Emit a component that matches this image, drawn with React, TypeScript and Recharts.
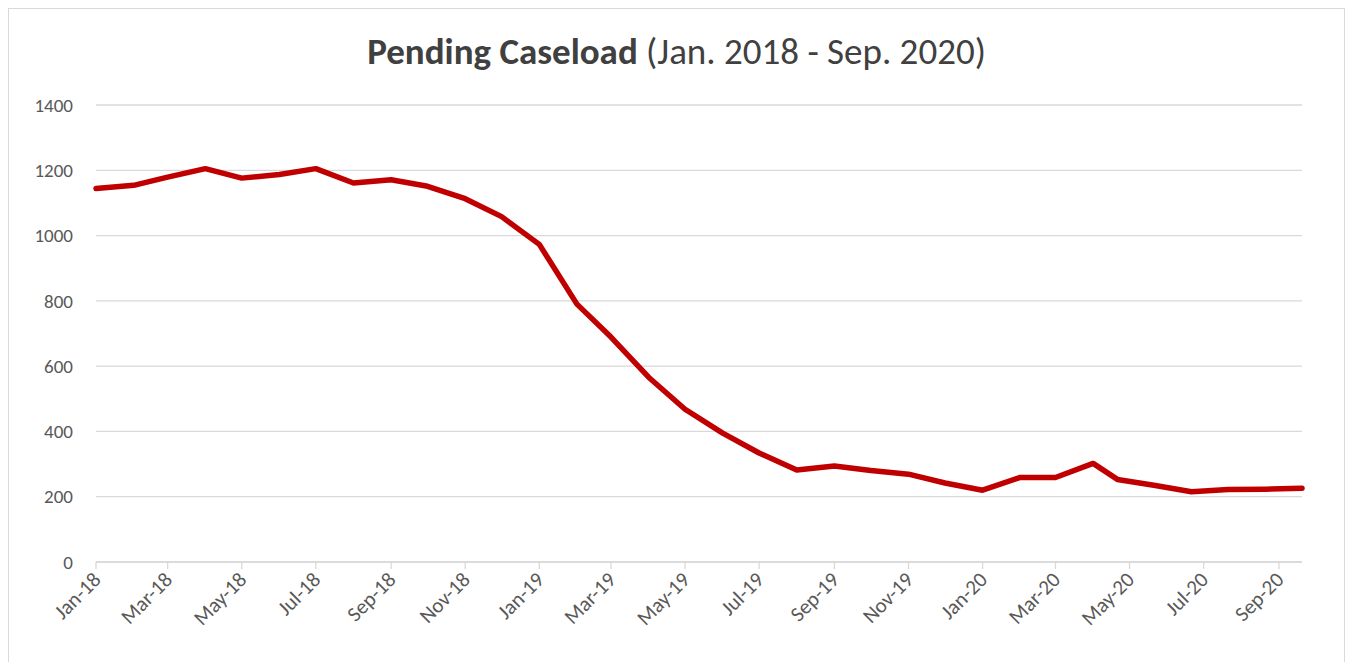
import { LineChart, Line, XAxis, YAxis, CartesianGrid } from "recharts"

// report dates and pending cases
const dates = [
  "2018-01-01", "2018-02-01", "2018-03-01", "2018-04-01", "2018-05-01", "2018-06-01",
  "2018-07-01", "2018-08-01", "2018-09-01", "2018-10-01", "2018-11-01", "2018-12-01",
  "2019-01-01", "2019-02-01", "2019-03-01", "2019-04-01", "2019-05-01", "2019-06-01",
  "2019-07-01", "2019-08-01", "2019-09-01", "2019-10-01", "2019-11-01", "2019-12-01",
  "2020-01-01", "2020-02-01", "2020-03-01", "2020-04-01", "2020-04-21", "2020-05-21",
  "2020-06-21", "2020-07-21", "2020-08-21", "2020-09-20",
]

const pending = [
  1144, 1154, 1179, 1205, 1176, 1187,
  1205, 1161, 1171, 1151, 1113, 1058,
  973, 790, 689, 566, 468, 395,
  334, 282, 294, 280, 269, 242,
  220, 259, 259, 302, 253, 235,
  215, 222, 223, 226,
]

const tickDates = [
  "2018-01-01", "2018-03-01", "2018-05-01", "2018-07-01", "2018-09-01", "2018-11-01",
  "2019-01-01", "2019-03-01", "2019-05-01", "2019-07-01", "2019-09-01", "2019-11-01",
  "2020-01-01", "2020-03-01", "2020-05-01", "2020-07-01", "2020-09-01",
]

const tickLabels = [
  "Jan-18", "Mar-18", "May-18", "Jul-18", "Sep-18", "Nov-18",
  "Jan-19", "Mar-19", "May-19", "Jul-19", "Sep-19", "Nov-19",
  "Jan-20", "Mar-20", "May-20", "Jul-20", "Sep-20",
]

const yTicks = [0, 200, 400, 600, 800, 1000, 1200, 1400]

const toDay = (s: string) => Date.parse(s + "T00:00:00Z") / 86400000

const data = dates.map((d, i) => ({ t: toDay(d), value: pending[i] }))
const xTicks = tickDates.map(toDay)

const FONT = "Calibri, Carlito, Lato, sans-serif"

const XTick = ({ x, y, payload }: any) => {
  const idx = xTicks.indexOf(payload.value)
  const px = x + 6
  const py = y + 10
  return (
    <text
      x={px}
      y={py}
      transform={`rotate(-45 ${px} ${py})`}
      textAnchor="end"
      fill="#595959"
      fontSize={21}
      fontFamily={FONT}
    >
      {tickLabels[idx]}
    </text>
  )
}

export default function App() {
  return (
    <div
      style={{
        position: "relative",
        width: 1335,
        height: 660,
        border: "1px solid #d9d9d9",
        background: "#fff",
        fontFamily: FONT,
      }}
    >
      <div
        style={{
          position: "absolute",
          top: 20,
          left: 0,
          width: 1335,
          textAlign: "center",
          fontSize: 37,
          color: "#404040",
        }}
      >
        <span style={{ fontWeight: 700 }}>Pending Caseload</span> (Jan. 2018 - Sep. 2020)
      </div>
      <LineChart
        width={1335}
        height={660}
        data={data}
        margin={{ top: 96, right: 42, bottom: 0, left: 0 }}
      >
        <CartesianGrid vertical={false} stroke="#d9d9d9" strokeWidth={1.3} />
        <XAxis
          dataKey="t"
          type="number"
          domain={["dataMin", "dataMax"]}
          ticks={xTicks}
          tick={<XTick />}
          interval={0}
          height={107}
          tickSize={7}
          tickMargin={2}
          axisLine={{ stroke: "#d9d9d9", strokeWidth: 1.3 }}
          tickLine={{ stroke: "#d9d9d9", strokeWidth: 1.3 }}
        />
        <YAxis
          domain={[0, 1400]}
          ticks={yTicks}
          width={87}
          axisLine={false}
          tickLine={false}
          tickSize={0}
          tickMargin={23}
          tick={{ fill: "#595959", fontSize: 19, fontFamily: FONT }}
        />
        <Line
          type="linear"
          dataKey="value"
          stroke="#c00000"
          strokeWidth={5.5}
          strokeLinejoin="round"
          strokeLinecap="round"
          dot={false}
          isAnimationActive={false}
        />
      </LineChart>
    </div>
  )
}
